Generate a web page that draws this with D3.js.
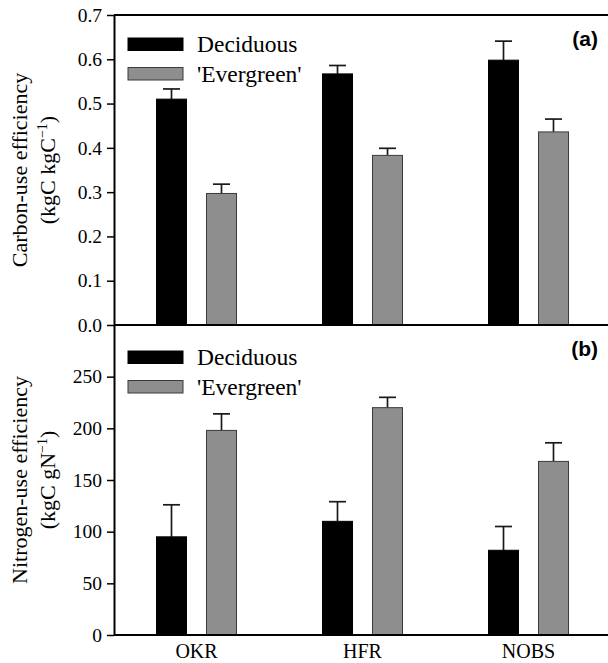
<!DOCTYPE html>
<html>
<head>
<meta charset="utf-8">
<script src="https://cdn.jsdelivr.net/npm/d3@7"></script>
<style>
  body { margin: 0; background: #fff; }
  svg text { font-family: "Liberation Serif", "Times New Roman", serif; fill: #000; }
  svg text.letter { font-family: "Liberation Sans", Arial, sans-serif; }
</style>
</head>
<body>
<div id="chart"></div>
<script>
// data
const sites = ["OKR", "HFR", "NOBS"];
const groups = ["Deciduous", "'Evergreen'"];

const cueDeciduous = [0.510, 0.567, 0.598];
const cueDeciduousErr = [0.023, 0.019, 0.043];
const cueEvergreen = [0.297, 0.383, 0.436];
const cueEvergreenErr = [0.021, 0.016, 0.029];

const nueDeciduous = [95, 110, 82];
const nueDeciduousErr = [31, 19, 23];
const nueEvergreen = [198, 220, 168];
const nueEvergreenErr = [16, 10, 18];

const cueTicks = [0, 0.1, 0.2, 0.3, 0.4, 0.5, 0.6, 0.7];
const nueTicks = [0, 50, 100, 150, 200, 250];

const W = 608, H = 663;
const left = 114, right = 612;

const svg = d3.select("#chart")
  .append("svg")
    .attr("width", W)
    .attr("height", H)
    .attr("font-family", "Liberation Serif");

// x scales shared by both panels
const x = d3.scaleBand()
  .domain(sites)
  .range([left, right]);
const xInner = d3.scaleBand()
  .domain(groups)
  .range([42.5, 122.5])
  .paddingInner(0.4);

const fills = {"Deciduous": "#000", "'Evergreen'": "#8e8e8e"};
const strokes = {"Deciduous": "#000", "'Evergreen'": "#3a3a3a"};

function drawPanel(cfg) {
  const y = d3.scaleLinear().domain(cfg.domain).range([cfg.bottom, cfg.top]);

  const rows = [];
  sites.forEach(function(s, i) {
    rows.push({site: s, grp: groups[0], v: cfg.dec[i], e: cfg.decErr[i]});
    rows.push({site: s, grp: groups[1], v: cfg.eve[i], e: cfg.eveErr[i]});
  });

  const g = svg.append("g");

  // error bars (drawn first so bar tops cover the stem base)
  const eb = g.selectAll(".err").data(rows).enter().append("g")
    .attr("stroke", "#1a1a1a")
    .attr("stroke-width", 1.7);
  eb.append("line")
    .attr("x1", d => x(d.site) + xInner(d.grp) + xInner.bandwidth() / 2)
    .attr("x2", d => x(d.site) + xInner(d.grp) + xInner.bandwidth() / 2)
    .attr("y1", d => y(d.v))
    .attr("y2", d => y(d.v + d.e));
  eb.append("line")
    .attr("x1", d => x(d.site) + xInner(d.grp) + xInner.bandwidth() / 2 - 8.5)
    .attr("x2", d => x(d.site) + xInner(d.grp) + xInner.bandwidth() / 2 + 8.5)
    .attr("y1", d => y(d.v + d.e))
    .attr("y2", d => y(d.v + d.e));

  // bars
  g.selectAll(".bar").data(rows).enter().append("rect")
    .attr("x", d => x(d.site) + xInner(d.grp))
    .attr("width", xInner.bandwidth())
    .attr("y", d => y(d.v))
    .attr("height", d => y(0) - y(d.v))
    .attr("fill", d => fills[d.grp])
    .attr("stroke", d => strokes[d.grp])
    .attr("stroke-width", 1);

  // left axis
  const ax = g.append("g")
    .attr("transform", "translate(" + left + ",0)")
    .call(d3.axisLeft(y).tickValues(cfg.ticks).tickFormat(cfg.fmt).tickSize(7).tickPadding(5).tickSizeOuter(0));
  ax.attr("font-family", "Liberation Serif").attr("font-size", 19.5);
  ax.select(".domain").attr("stroke-width", 2);
  ax.selectAll(".tick line").attr("stroke-width", 1.5);

  // frame lines (top and bottom)
  g.append("line")
    .attr("x1", left).attr("x2", right)
    .attr("y1", cfg.top).attr("y2", cfg.top)
    .attr("stroke", "#000").attr("stroke-width", 2);
  g.append("line")
    .attr("x1", left).attr("x2", right)
    .attr("y1", cfg.bottom).attr("y2", cfg.bottom)
    .attr("stroke", "#000").attr("stroke-width", 2);

  // legend
  groups.forEach(function(grp, i) {
    const ly = cfg.legY + i * 29.5;
    g.append("rect")
      .attr("x", 128).attr("y", ly)
      .attr("width", 55).attr("height", 12.5)
      .attr("fill", fills[grp])
      .attr("stroke", strokes[grp])
      .attr("stroke-width", 1);
    g.append("text")
      .attr("x", 197).attr("y", ly + 14)
      .attr("font-size", 23.5)
      .text(grp);
  });

  // panel letter
  g.append("text")
    .attr("class", "letter")
    .attr("x", 598).attr("y", cfg.top + 31)
    .attr("text-anchor", "end")
    .attr("font-weight", "bold")
    .attr("font-size", 21)
    .text(cfg.letter);

  // y title, two lines
  const cy = (cfg.top + cfg.bottom) / 2;
  g.append("text")
    .attr("transform", "translate(27," + cy + ") rotate(-90)")
    .attr("text-anchor", "middle")
    .attr("font-size", 22)
    .text(cfg.title);
  const t2 = g.append("text")
    .attr("transform", "translate(55," + cy + ") rotate(-90)")
    .attr("text-anchor", "middle")
    .attr("font-size", 22);
  t2.append("tspan").text(cfg.unit);
  t2.append("tspan").attr("font-size", 14).attr("dy", "-8").text("\u22121");
  t2.append("tspan").attr("dy", "8").text(")");

  return y;
}

drawPanel({
  domain: [0, 0.7], top: 15, bottom: 325,
  dec: cueDeciduous, decErr: cueDeciduousErr,
  eve: cueEvergreen, eveErr: cueEvergreenErr,
  ticks: cueTicks, fmt: d3.format(".1f"),
  legY: 38, letter: "(a)",
  title: "Carbon-use efficiency", unit: "(kgC kgC"
});

drawPanel({
  domain: [0, 300], top: 325, bottom: 635,
  dec: nueDeciduous, decErr: nueDeciduousErr,
  eve: nueEvergreen, eveErr: nueEvergreenErr,
  ticks: nueTicks, fmt: d3.format("d"),
  legY: 351, letter: "(b)",
  title: "Nitrogen-use efficiency", unit: "(kgC gN"
});

// site labels along the bottom
svg.append("g").selectAll(".site").data(sites).enter().append("text")
  .attr("x", d => x(d) + x.bandwidth() / 2 - 0.5)
  .attr("y", 658)
  .attr("text-anchor", "middle")
  .attr("font-size", 20)
  .text(d => d);
</script>
</body>
</html>
